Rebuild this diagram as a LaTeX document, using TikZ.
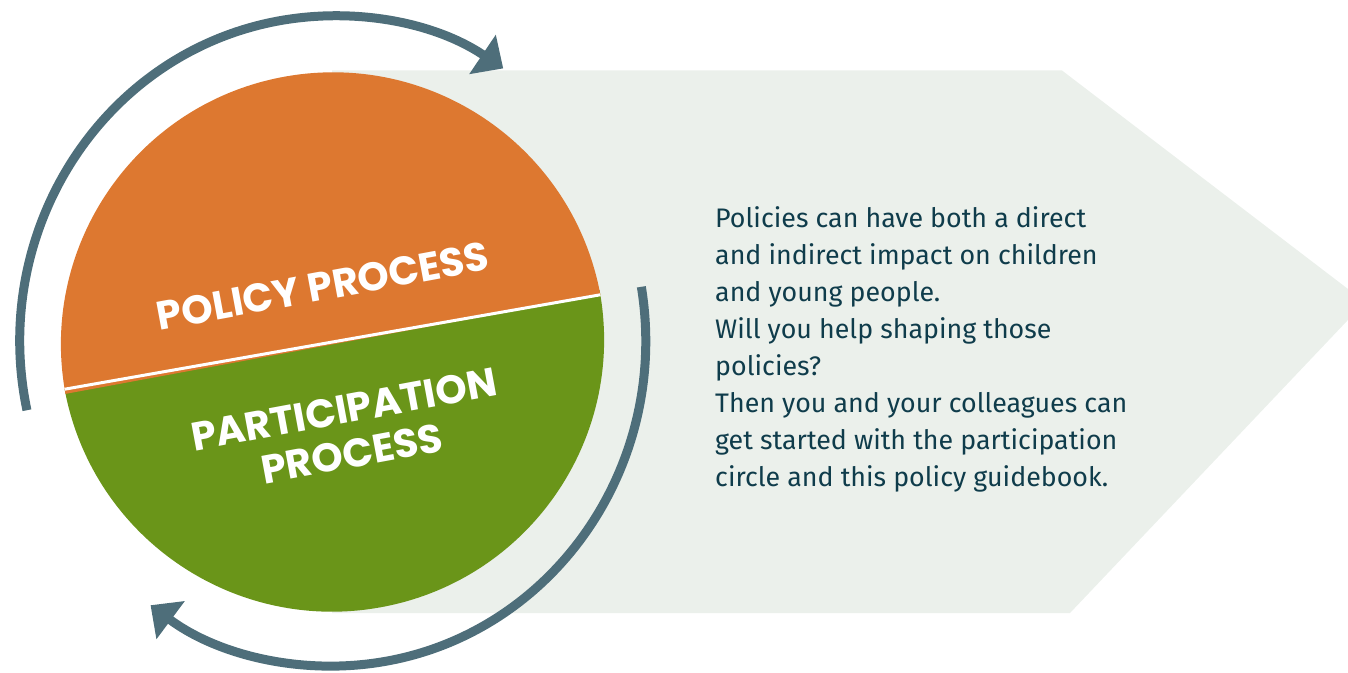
\documentclass[tikz,border=0pt]{standalone}
\usepackage{fontspec}
\setmainfont{Fira Sans}
\newfontfamily\headfont{Poppins}
\usetikzlibrary{arrows.meta}
\definecolor{policy}{HTML}{DD7830}
\definecolor{particip}{HTML}{6A9519}
\definecolor{loop}{HTML}{4E6E7A}
\definecolor{wash}{HTML}{EBF0EB}
\definecolor{ink}{HTML}{0F3C4B}

\begin{document}
\begin{tikzpicture}[x=1pt,y=1pt,
  cycle/.style={draw=loop,line width=9pt,-{Triangle[width=46pt,length=25pt]}},
  half/.style={text=white,rotate=10.5,align=center,font=\headfont\bfseries\fontsize{40}{45}\selectfont}]
\clip (0,0) rectangle (1348,672);
% pale arrow behind the text
\fill[wash] (332,601.5) -- (1062,601.5) -- (1365,370) -- (1070,59) -- (332,59) -- cycle;
% the two halves of the circle
\node[circle,minimum size=544pt,inner sep=0pt,outer sep=0pt] (cyc) at (332.5,330) {};
\fill[particip] (cyc.190.5) arc[start angle=190.5,end angle=370.5,radius=272] -- cycle;
\fill[policy] (cyc.10.5) arc[start angle=10.5,end angle=190.5,radius=272] -- cycle;
\draw[white,line width=3pt] (cyc.190.5) -- (cyc.10.5);
\node[half] (pol) at (323,386) {POLICY PROCESS};
\node[half] (par) at (348,240.5) {PARTICIPATION\\PROCESS};
% arrows running round the circle
\coordinate (hub) at (332.75,331);
\draw[cycle] (hub) ++(192.3:313 and 325) arc[start angle=192.3,end angle=57,x radius=313,y radius=325];
\draw[cycle] (hub) ++(9.6:313 and 325) arc[start angle=9.6,end angle=-125.6,x radius=313,y radius=325];
\node[anchor=north west,inner sep=0pt,align=left,text=ink,font=\fontsize{26.8}{37}\selectfont] (blurb) at (715,466)
  {Policies can have both a direct\\and indirect impact on children\\and young people.\\Will you help shaping those\\policies?\\Then you and your colleagues can\\get started with the participation\\circle and this policy guidebook.};
\end{tikzpicture}
\end{document}
